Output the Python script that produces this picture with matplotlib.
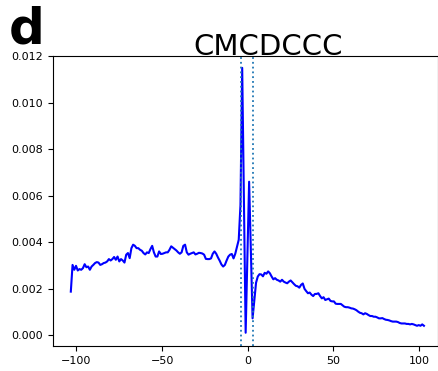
import numpy as np
import matplotlib
matplotlib.use("Agg")
import matplotlib.pyplot as plt

# positions along the sequence (205 samples)
pos = np.linspace(-103.3, 102.8, 205)

# left flank, -103 .. -69
left_a = [0.00187, 0.00302, 0.00281, 0.00298, 0.00278, 0.00284, 0.00281, 0.00288,
          0.00305, 0.00292, 0.00295, 0.00281, 0.00295, 0.00302, 0.00310, 0.00314,
          0.00312, 0.00302, 0.00305, 0.00310, 0.00312, 0.00317, 0.00327, 0.00321,
          0.00327, 0.00336, 0.00324, 0.00338, 0.00317, 0.00327, 0.00321, 0.00312,
          0.00346, 0.00353, 0.00331]
# -68 .. -32
left_b = [0.00374, 0.00389, 0.00384, 0.00374, 0.00374, 0.00367, 0.00363, 0.00353,
          0.00347, 0.00356, 0.00353, 0.00370, 0.00384, 0.00356, 0.00338, 0.00338,
          0.00360, 0.00349, 0.00350, 0.00353, 0.00356, 0.00356, 0.00367, 0.00382,
          0.00376, 0.00370, 0.00364, 0.00356, 0.00350, 0.00356, 0.00384, 0.00389,
          0.00356, 0.00346, 0.00350, 0.00353, 0.00356]
# -31 .. -7
left_c = [0.00347, 0.00350, 0.00354, 0.00353, 0.00351, 0.00346, 0.00328, 0.00327,
          0.00327, 0.00330, 0.00350, 0.00360, 0.00350, 0.00334, 0.00320, 0.00304,
          0.00295, 0.00302, 0.00321, 0.00338, 0.00346, 0.00349, 0.00330, 0.00350,
          0.00380]
# centre
centre = [0.00410, 0.00560, 0.01150, 0.00580, 0.00010, 0.00335, 0.00660, 0.00365,
          0.00072]
# right flank, 4 .. 39
right_a = [0.00150, 0.00225, 0.00252,
           0.00262, 0.00261, 0.00253, 0.00268, 0.00264, 0.00274, 0.00266, 0.00252,
           0.00240, 0.00245, 0.00238, 0.00235, 0.00230, 0.00238, 0.00230, 0.00226,
           0.00223, 0.00230, 0.00235, 0.00227, 0.00219, 0.00212, 0.00210, 0.00204,
           0.00216, 0.00222, 0.00199, 0.00189, 0.00180, 0.00183, 0.00174, 0.00168,
           0.00177]
# 40 .. 103
right_b = [0.00177, 0.00180, 0.00168, 0.00158, 0.00163, 0.00151, 0.00154, 0.00157,
           0.00147, 0.00145, 0.00145, 0.00135, 0.00134, 0.00134, 0.00134, 0.00128,
           0.00122, 0.00120, 0.00120, 0.00118, 0.00115, 0.00114, 0.00111, 0.00107,
           0.00101, 0.00096, 0.00094, 0.00089, 0.00094, 0.00091, 0.00086, 0.00082,
           0.00082, 0.00079, 0.00079, 0.00076, 0.00072, 0.00072, 0.00073, 0.00069,
           0.00066, 0.00065, 0.00063, 0.00060, 0.00058, 0.00058, 0.00058, 0.00056,
           0.00052, 0.00050, 0.00050, 0.00050, 0.00048, 0.00048, 0.00046, 0.00048,
           0.00046, 0.00043, 0.00040, 0.00043, 0.00040, 0.00046, 0.00040]

freq = left_a + left_b + left_c + centre + right_a + right_b
motif_edges = [-4, 3]
title = "CMCDCCC"
panel = "d"

fig = plt.figure(figsize=(4.39, 3.71), dpi=100)
ax = fig.add_axes([53 / 439, 25 / 371, 385 / 439, 290 / 371])

ax.plot(pos, freq, color="blue", lw=1.5)
for e in motif_edges:
    ax.axvline(e, color="tab:blue", ls=":", lw=1.3)

ax.set_xlim(-113.7, 111)
ax.set_ylim(-0.00047, 0.01201)
ax.set_xticks([-100, -50, 0, 50, 100])
ax.set_yticks(np.arange(0, 0.0121, 0.002))
ax.yaxis.set_major_formatter(matplotlib.ticker.FormatStrFormatter("%.3f"))
ax.tick_params(labelsize=8, length=3.5, width=0.8)
for s in ax.spines.values():
    s.set_linewidth(0.8)

fig.text(268 / 439, (371 - 55) / 371, title, ha="center", va="baseline", fontsize=21)
fig.text(9 / 439, (371 - 43) / 371, panel, ha="left", va="baseline",
         fontsize=36, fontweight="bold")

fig.savefig("out.png", dpi=100)
